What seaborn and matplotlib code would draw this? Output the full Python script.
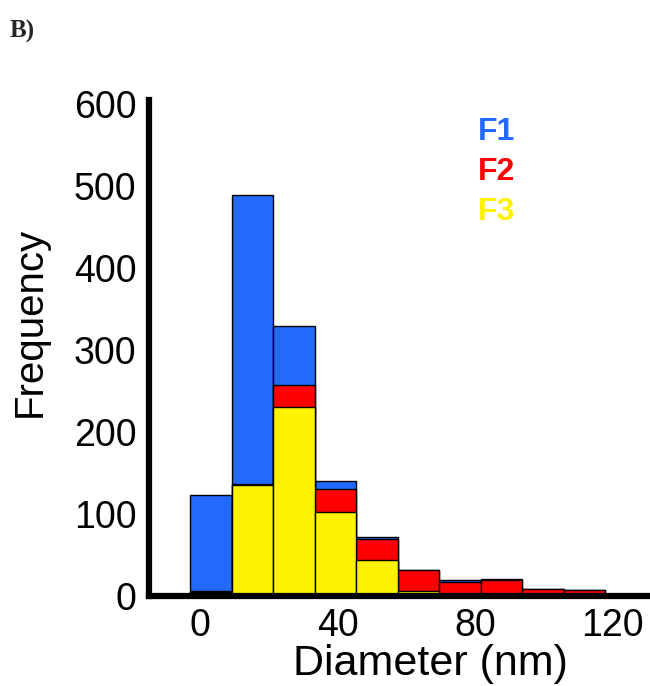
import matplotlib
matplotlib.use("Agg")
import matplotlib.pyplot as plt
import seaborn as sns
import numpy as np

# Data
bin_edges = [-3.0, 9.1, 21.2, 33.3, 45.4, 57.5, 69.6, 81.7, 93.8, 105.9, 118.0]
f1_counts = [123, 489, 330, 140, 72, 32, 20, 21, 9, 7]
f2_counts = [6, 137, 257, 131, 69, 32, 17, 19, 8, 7]
f3_counts = [5, 135, 230, 103, 44, 6, 0, 0, 0, 0]
series_names = ["F1", "F2", "F3"]
series_colors = ["#2369fe", "#fe0000", "#fff200"]
x_ticks = [0, 40, 80, 120]
y_ticks = [0, 100, 200, 300, 400, 500, 600]

sns.set_theme(style="white")
plt.rcParams["font.family"] = ["Liberation Sans", "DejaVu Sans"]

fig = plt.figure(figsize=(6.5, 6.86), dpi=100)
ax = fig.add_axes([0.229, 0.1312, 0.771, 0.7228])

centers = [(bin_edges[i] + bin_edges[i + 1]) / 2 for i in range(len(bin_edges) - 1)]
for counts, col in zip([f1_counts, f2_counts, f3_counts], series_colors):
    sns.histplot(x=centers, weights=counts, bins=bin_edges, color=col,
                 edgecolor="black", linewidth=1.0, alpha=1, ax=ax)

ax.set_xlim(-15, 131)
ax.set_ylim(0, 605)
ax.set_xticks(x_ticks)
ax.set_yticks(y_ticks)
ax.set_xticklabels([str(t) for t in x_ticks], fontsize=27)
ax.set_yticklabels([str(t) for t in y_ticks], fontsize=27)

for s in ["top", "right"]:
    ax.spines[s].set_visible(False)
for s in ["left", "bottom"]:
    ax.spines[s].set_linewidth(4.5)
    ax.spines[s].set_color("black")
ax.tick_params(axis="both", direction="in", length=11, width=3.2, color="black",
               pad=9, labelcolor="black")
ax.tick_params(axis="x", pad=9)

ax.set_xlabel("Diameter (nm)", fontsize=31, color="black")
ax.set_ylabel("Frequency", fontsize=29, color="black")
ax.xaxis.set_label_coords(0.561, -0.097)
ax.yaxis.set_label_coords(-0.2, 0.552)

legend_y = [0.919, 0.839, 0.758]
for name, col, yy in zip(series_names, series_colors, legend_y):
    ax.text(0.657, yy, name, transform=ax.transAxes, color=col, fontsize=23,
            fontweight="bold", va="baseline", ha="left")

fig.text(0.015, 0.945, "B)", fontsize=18, fontweight="bold",
         family=["Liberation Serif", "DejaVu Serif"], va="baseline", ha="left")

ax.grid(False)
fig.savefig("out.png", dpi=100, facecolor="white")
